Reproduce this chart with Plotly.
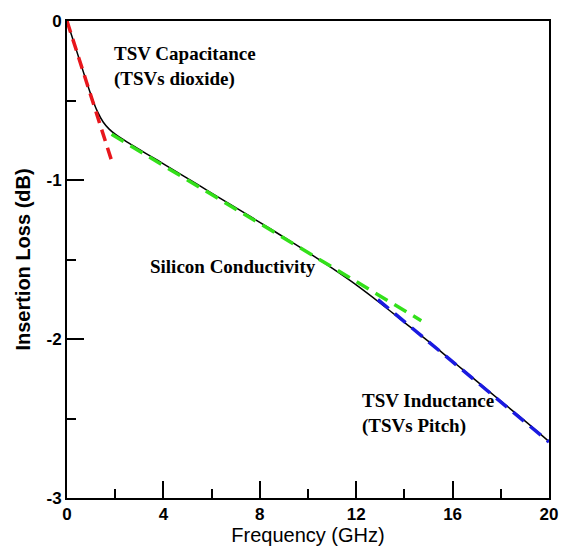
import plotly.graph_objects as go

# Data
freq = [0, 0.25, 0.5, 0.75, 1.0, 1.25, 1.5, 1.75, 2.0, 2.5, 3.0, 3.5, 4, 5, 6, 7, 8, 9, 10, 11, 12, 13, 14, 15, 16, 17, 18, 19, 20]
loss = [0, -0.118, -0.236, -0.354, -0.468, -0.565, -0.635, -0.68, -0.712, -0.762, -0.808, -0.853, -0.898, -0.99, -1.082,
        -1.174, -1.266, -1.36, -1.455, -1.555, -1.66, -1.775, -1.895, -2.015, -2.14, -2.265, -2.39, -2.515, -2.645]

red_x = [0, 1.85]
red_y = [0, -0.878]
green_x = [1.85, 14.7]
green_y = [-0.713, -1.885]
blue_x = [12.9, 20]
blue_y = [-1.752, -2.648]

x_ticks = [0, 4, 8, 12, 16, 20]
y_ticks = [0, -1, -2, -3]

fig = go.Figure()
fig.add_trace(go.Scatter(x=freq, y=loss, mode="lines", line=dict(color="black", width=1.5, shape="spline", smoothing=0.8)))
fig.add_trace(go.Scatter(x=red_x, y=red_y, mode="lines",
                         line=dict(color="#e8161c", width=3.5, dash="12px,7px")))
fig.add_trace(go.Scatter(x=green_x, y=green_y, mode="lines",
                         line=dict(color="#33e01a", width=3.5, dash="14px,8px")))
fig.add_trace(go.Scatter(x=blue_x, y=blue_y, mode="lines",
                         line=dict(color="#1a1ae0", width=3.5, dash="14px,8px")))

serif = dict(family="Liberation Serif", size=19, color="black")
fig.add_annotation(x=1.85, y=-0.289, xanchor="left", yanchor="middle", showarrow=False, align="left",
                   text="<b>TSV Capacitance<br>(TSVs dioxide)</b>", font=serif)
fig.add_annotation(x=3.35, y=-1.545, xanchor="left", yanchor="middle", showarrow=False, align="left",
                   text="<b>Silicon Conductivity</b>", font=serif)
fig.add_annotation(x=12.17, y=-2.47, xanchor="left", yanchor="middle", showarrow=False, align="left",
                   text="<b>TSV Inductance<br>(TSVs Pitch)</b>", font=serif)

fig.update_layout(
    width=570, height=554,
    margin=dict(l=67, r=18, t=13, b=55),
    paper_bgcolor="white", plot_bgcolor="white",
    showlegend=False,
    font=dict(family="Liberation Sans", color="black"),
)
fig.update_xaxes(
    range=[0, 20], tickvals=x_ticks, ticktext=["<b>%d</b>" % v for v in x_ticks],
    ticks="inside", ticklen=17, tickwidth=2, tickcolor="black",
    minor=dict(dtick=2, tick0=0, ticks="inside", ticklen=9, tickwidth=2, tickcolor="black"),
    showline=True, linecolor="black", linewidth=2, mirror=True,
    showgrid=False, zeroline=False,
    tickfont=dict(family="Liberation Sans", size=17, color="black"),
    title=dict(text="Frequency (GHz)", font=dict(family="Liberation Sans", size=20, color="black"), standoff=4),
)
fig.update_yaxes(
    range=[-3, 0], tickvals=y_ticks, ticktext=["<b>%d</b>" % v for v in y_ticks],
    ticks="inside", ticklen=17, tickwidth=2, tickcolor="black",
    minor=dict(dtick=0.5, tick0=0, ticks="inside", ticklen=9, tickwidth=2, tickcolor="black"),
    showline=True, linecolor="black", linewidth=2, mirror=True,
    showgrid=False, zeroline=False,
    tickfont=dict(family="Liberation Sans", size=17, color="black"),
    title=dict(text="<b>Insertion Loss (dB)</b>", font=dict(family="Liberation Sans", size=20, color="black"), standoff=10),
)

fig.write_html("out.html")
